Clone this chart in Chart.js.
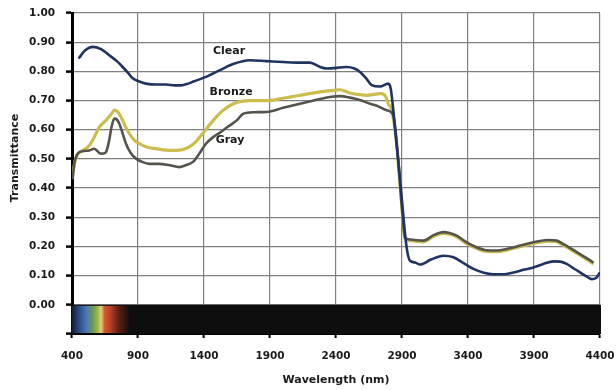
<!DOCTYPE html>
<html>
<head>
<meta charset="utf-8">
<script src="https://cdn.jsdelivr.net/npm/chart.js@4"></script>
<style>
  html, body { margin: 0; padding: 0; background: #fff; }
</style>
</head>
<body>
<canvas id="chart" width="616" height="390"></canvas>
<script>
/* ─── Data ─────────────────────────────────────────────────────── */
const clearNm = [450, 500, 557, 620, 680, 740, 784, 830, 860, 910, 960, 1040, 1112, 1180, 1226, 1280, 1320, 1415, 1521, 1620, 1748, 1875, 2000, 2127, 2203, 2279, 2330, 2430, 2481, 2540, 2582, 2630, 2670, 2733, 2796, 2815, 2834, 2885, 2935, 2961, 3000, 3036, 3120, 3213, 3289, 3360, 3441, 3520, 3592, 3670, 3744, 3820, 3895, 3970, 4047, 4100, 4148, 4200, 4249, 4300, 4337, 4370, 4400];
const clearT  = [0.844, 0.872, 0.884, 0.876, 0.856, 0.835, 0.815, 0.792, 0.776, 0.765, 0.758, 0.755, 0.755, 0.752, 0.752, 0.758, 0.765, 0.781, 0.804, 0.825, 0.838, 0.835, 0.832, 0.830, 0.830, 0.815, 0.810, 0.813, 0.815, 0.810, 0.798, 0.775, 0.753, 0.748, 0.758, 0.740, 0.667, 0.430, 0.197, 0.151, 0.145, 0.138, 0.155, 0.168, 0.163, 0.145, 0.123, 0.110, 0.105, 0.105, 0.111, 0.120, 0.128, 0.140, 0.149, 0.148, 0.140, 0.125, 0.111, 0.097, 0.088, 0.092, 0.111];

const bronzeNm = [405, 430, 481, 520, 557, 607, 657, 700, 721, 745, 771, 800, 834, 870, 910, 970, 1036, 1110, 1188, 1240, 1289, 1340, 1390, 1470, 1540, 1622, 1680, 1748, 1875, 2000, 2127, 2279, 2380, 2430, 2506, 2580, 2632, 2700, 2746, 2780, 2796, 2822, 2860, 2900, 2923, 2961, 3000, 3062, 3140, 3213, 3260, 3314, 3390, 3466, 3540, 3617, 3700, 3794, 3870, 3945, 4010, 4072, 4120, 4173, 4230, 4273, 4320, 4350];
const bronzeT  = [0.449, 0.506, 0.529, 0.540, 0.564, 0.609, 0.632, 0.655, 0.667, 0.662, 0.644, 0.615, 0.587, 0.565, 0.552, 0.540, 0.535, 0.530, 0.529, 0.532, 0.541, 0.560, 0.587, 0.632, 0.665, 0.689, 0.697, 0.700, 0.700, 0.708, 0.718, 0.730, 0.735, 0.737, 0.726, 0.720, 0.718, 0.722, 0.724, 0.710, 0.689, 0.667, 0.550, 0.330, 0.225, 0.220, 0.218, 0.216, 0.235, 0.245, 0.242, 0.233, 0.210, 0.193, 0.183, 0.182, 0.188, 0.199, 0.208, 0.215, 0.218, 0.216, 0.205, 0.191, 0.175, 0.163, 0.150, 0.140];

const grayNm = [405, 417, 440, 455, 490, 531, 569, 590, 607, 630, 657, 680, 700, 721, 740, 758, 785, 809, 845, 885, 930, 986, 1061, 1140, 1213, 1260, 1314, 1360, 1415, 1470, 1521, 1580, 1648, 1698, 1780, 1875, 2000, 2127, 2280, 2355, 2430, 2506, 2580, 2658, 2720, 2784, 2834, 2870, 2900, 2923, 2961, 3000, 3062, 3140, 3213, 3260, 3314, 3390, 3466, 3540, 3617, 3700, 3794, 3870, 3945, 4010, 4072, 4120, 4173, 4230, 4273, 4320, 4350];
const grayT  = [0.430, 0.483, 0.515, 0.523, 0.527, 0.529, 0.535, 0.528, 0.520, 0.518, 0.523, 0.560, 0.610, 0.638, 0.635, 0.621, 0.585, 0.552, 0.520, 0.501, 0.490, 0.483, 0.483, 0.478, 0.472, 0.478, 0.489, 0.515, 0.552, 0.575, 0.590, 0.610, 0.632, 0.655, 0.660, 0.661, 0.675, 0.689, 0.705, 0.712, 0.715, 0.710, 0.702, 0.689, 0.680, 0.667, 0.649, 0.500, 0.330, 0.230, 0.224, 0.222, 0.220, 0.239, 0.249, 0.246, 0.237, 0.214, 0.197, 0.187, 0.186, 0.192, 0.203, 0.212, 0.219, 0.222, 0.220, 0.209, 0.195, 0.179, 0.167, 0.154, 0.144];

const seriesNames = ['Clear', 'Bronze', 'Gray'];
// where each series name is written, in data units
const labelNm = [1590, 1605, 1597];
const labelT  = [0.868, 0.729, 0.564];

const xMin = 400, xMax = 4400, xStep = 500;
const yMin = -0.1, yMax = 1.0, yStep = 0.1;
const visibleEndNm = 840;   // end of the coloured part of the strip

const toPoints = (xs, ys) => xs.map((v, i) => ({ x: v, y: ys[i] }));

/* ─── Plugins ──────────────────────────────────────────────────── */
// black strip under 0.00 with the visible spectrum at its left end
const spectrumStrip = {
    id: 'spectrumStrip',
    beforeDatasetsDraw(chart) {
        const { ctx, scales: { x, y } } = chart;
        const left   = x.getPixelForValue(xMin);
        const right  = x.getPixelForValue(xMax);
        const top    = y.getPixelForValue(0);
        const bottom = y.getPixelForValue(yMin);
        const gEnd   = x.getPixelForValue(visibleEndNm);

        ctx.save();
        ctx.fillStyle = '#0e0e0e';
        ctx.fillRect(left - 1, top, right - left + 2, bottom - top);

        const g = ctx.createLinearGradient(left, 0, gEnd, 0);
        g.addColorStop(0.00, '#161d33');
        g.addColorStop(0.12, '#2a4a88');
        g.addColorStop(0.25, '#4b78b6');
        g.addColorStop(0.36, '#6c9c48');
        g.addColorStop(0.45, '#a6ba4c');
        g.addColorStop(0.50, '#e2d07e');
        g.addColorStop(0.56, '#d25a30');
        g.addColorStop(0.66, '#b63f28');
        g.addColorStop(0.80, '#5e2016');
        g.addColorStop(1.00, '#0e0e0e');
        ctx.fillStyle = g;
        ctx.fillRect(left, top + 1, gEnd - left, bottom - top - 2);
        ctx.restore();
    }
};

// series names inside the plot, and the rotated y title
const textLabels = {
    id: 'textLabels',
    afterDatasetsDraw(chart) {
        const { ctx, scales: { x, y } } = chart;
        ctx.save();
        ctx.fillStyle    = '#1a1a1a';
        ctx.font         = 'bold 11px "DejaVu Sans"';
        ctx.textAlign    = 'center';
        ctx.textBaseline = 'middle';
        seriesNames.forEach((name, i) => {
            ctx.fillText(name, x.getPixelForValue(labelNm[i]), y.getPixelForValue(labelT[i]));
        });

        ctx.translate(15, 158);
        ctx.rotate(-Math.PI / 2);
        ctx.fillText('Transmittance', 0, 0);
        ctx.restore();
    }
};

/* ─── Chart ────────────────────────────────────────────────────── */
const tickFont = { family: '"DejaVu Sans"', size: 10.5, weight: 'bold' };

new Chart(document.getElementById('chart').getContext('2d'), {
    type: 'line',
    data: {
        datasets: [
            {
                label: 'Clear',
                data: toPoints(clearNm, clearT),
                borderColor: '#1f3462',
                borderWidth: 2.6,
            },
            {
                label: 'Gray',
                data: toPoints(grayNm, grayT),
                borderColor: '#55534c',
                borderWidth: 2.6,
            },
            {
                label: 'Bronze',
                data: toPoints(bronzeNm, bronzeT),
                borderColor: '#cbbe4e',
                borderWidth: 3.2,
            },
        ],
    },
    options: {
        responsive: false,
        animation: false,
        devicePixelRatio: 1,
        layout: { padding: { top: 13, right: 16, left: 0, bottom: 0 } },
        elements: {
            point: { radius: 0 },
            line: { cubicInterpolationMode: 'monotone', fill: false },
        },
        plugins: {
            legend: { display: false },
            tooltip: { enabled: false },
        },
        scales: {
            x: {
                type: 'linear',
                min: xMin,
                max: xMax,
                // fixed box so the plot area lands where the reference has it
                afterFit(scale) {
                    scale.height = 56;
                    scale.paddingLeft = 0;
                    scale.paddingRight = 16;
                },
                ticks: {
                    stepSize: xStep,
                    color: '#1a1a1a',
                    font: tickFont,
                    padding: 12,
                    maxRotation: 0,
                    callback: v => String(v),
                },
                grid: {
                    color: '#808080',
                    lineWidth: 1.2,
                    tickColor: '#000',
                    tickWidth: 2,
                    tickLength: 4,
                },
                border: { color: '#000', width: 2 },
                title: {
                    display: true,
                    text: 'Wavelength (nm)',
                    color: '#1a1a1a',
                    font: { family: '"DejaVu Sans"', size: 11, weight: 'bold' },
                    padding: { top: 0, bottom: 3 },
                },
            },
            y: {
                min: yMin,
                max: yMax,
                afterFit(scale) {
                    scale.width = 72;
                    scale.paddingTop = 0;
                    scale.paddingBottom = 0;
                },
                ticks: {
                    stepSize: yStep,
                    color: '#1a1a1a',
                    font: tickFont,
                    padding: 11,
                    callback: v => (v < -0.001 ? '' : Math.abs(v).toFixed(2)),
                },
                grid: {
                    color: '#808080',
                    lineWidth: 1.2,
                    tickColor: '#000',
                    tickWidth: 2.5,
                    tickLength: 6,
                },
                border: { color: '#000', width: 3 },
            },
        },
    },
    plugins: [spectrumStrip, textLabels],
});
</script>
</body>
</html>
